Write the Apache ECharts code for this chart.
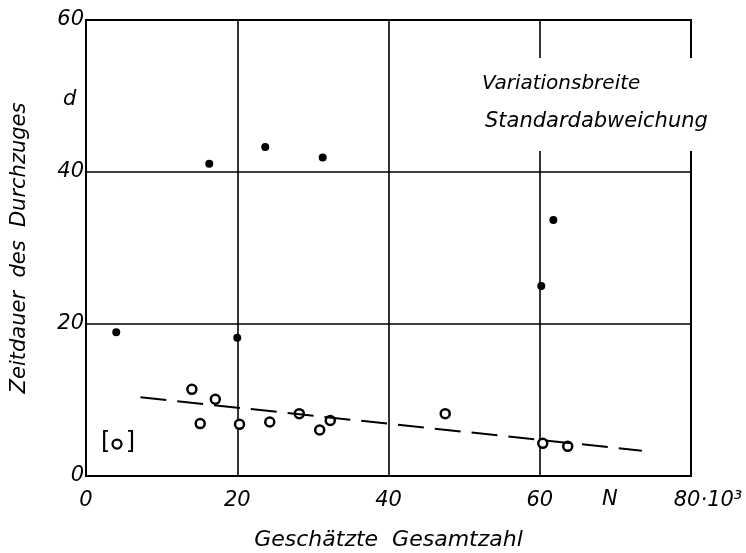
<!DOCTYPE html>
<html>
<head>
<meta charset="utf-8">
<script src="https://cdn.jsdelivr.net/npm/echarts@6/dist/echarts.min.js"></script>
<style>
  html, body { margin: 0; padding: 0; background: #fff; }
  #chart { width: 746px; height: 553px; }
</style>
</head>
<body>
<div id="chart"></div>
<script>
// tick labels
const xTicks = [0, 20, 40, 60, 80];
const yTicks = [0, 20, 40, 60];

// filled dots
const filledX = [4.0, 16.3, 20.0, 23.7, 31.3, 60.2, 61.8];
const filledY = [18.9, 41.1, 18.2, 43.3, 41.9, 25.0, 33.7];

// open circles
const openX = [14.0, 15.1, 17.1, 20.3, 24.3, 28.2, 30.9, 32.3, 47.5, 60.4, 63.7];
const openY = [11.4, 6.9, 10.1, 6.8, 7.1, 8.2, 6.05, 7.3, 8.2, 4.3, 3.9];

// bracketed sample symbol
const bracketX = [4.1];
const bracketY = [4.2];

// dashed trend line
const trendX = [7.2, 73.5];
const trendY = [10.35, 3.33];

const font = 'DejaVu Sans';
const chart = echarts.init(document.getElementById('chart'));

const pairs = (xs, ys) => xs.map((x, i) => [x, ys[i]]);

chart.setOption({
  animation: false,
  backgroundColor: '#fff',
  grid: {
    left: 86, right: 55, top: 20, bottom: 77,
    outerBoundsMode: 'none', containLabel: false,
    show: true, borderColor: '#000', borderWidth: 2
  },
  xAxis: {
    type: 'value', min: xTicks[0], max: xTicks[xTicks.length - 1], interval: 20,
    name: 'Geschätzte  Gesamtzahl', nameLocation: 'middle', nameGap: 53,
    nameTextStyle: { fontFamily: font, fontStyle: 'italic', fontSize: 22, color: '#000' },
    axisLine: { show: false },
    axisTick: { show: false },
    axisLabel: {
      margin: 14, color: '#000', fontFamily: font, fontStyle: 'italic', fontSize: 21,
      formatter: v => v === 80 ? '{a|80·10³}' : String(v),
      rich: { a: { fontFamily: font, fontStyle: 'italic', fontSize: 21, color: '#000', padding: [0, 0, 0, 34] } }
    },
    splitLine: { lineStyle: { color: '#000', width: 1.6 } }
  },
  yAxis: {
    type: 'value', min: yTicks[0], max: yTicks[yTicks.length - 1], interval: 20,
    name: 'Zeitdauer  des  Durchzuges', nameLocation: 'middle', nameGap: 56,
    nameTextStyle: { fontFamily: font, fontStyle: 'italic', fontSize: 21, color: '#000' },
    axisLine: { show: false },
    axisTick: { show: false },
    axisLabel: { margin: 2, color: '#000', fontFamily: font, fontStyle: 'italic', fontSize: 21 },
    splitLine: { lineStyle: { color: '#000', width: 1.6 } }
  },
  graphic: [
    { type: 'rect', z: 100, shape: { x: 470, y: 58, width: 250, height: 93 }, style: { fill: '#fff' } },
    { type: 'text', z: 101, left: 482, top: 74,
      style: { text: 'Variationsbreite', font: 'italic 20px "DejaVu Sans"', fill: '#000' } },
    { type: 'text', z: 101, left: 485, top: 111,
      style: { text: 'Standardabweichung', font: 'italic 21px "DejaVu Sans"', fill: '#000' } },
    { type: 'text', z: 101, left: 63, top: 89,
      style: { text: 'd', font: 'italic 21px "DejaVu Sans"', fill: '#000' } },
    { type: 'text', z: 101, left: 602, top: 489,
      style: { text: 'N', font: 'italic 21px "DejaVu Sans"', fill: '#000' } }
  ],
  series: [
    {
      type: 'line', data: pairs(trendX, trendY), symbol: 'none',
      lineStyle: { color: '#000', width: 2, type: [26, 11] }
    },
    {
      type: 'scatter', data: pairs(filledX, filledY), symbol: 'circle', symbolSize: 8,
      itemStyle: { color: '#000', opacity: 1 }
    },
    {
      type: 'scatter', data: pairs(openX, openY), symbol: 'circle', symbolSize: 9,
      itemStyle: { color: '#fff', borderColor: '#000', borderWidth: 2.5, opacity: 1 }
    },
    {
      type: 'scatter', data: pairs(bracketX, bracketY), symbol: 'circle', symbolSize: 9,
      itemStyle: { color: '#fff', borderColor: '#000', borderWidth: 2.2, opacity: 1 },
      label: {
        show: true, position: 'inside', formatter: '[  ]',
        fontFamily: font, fontSize: 24, color: '#000', offset: [1, -1]
      }
    }
  ]
});

window.addEventListener('resize', function () {
  chart.resize();
});
</script>
</body>
</html>
